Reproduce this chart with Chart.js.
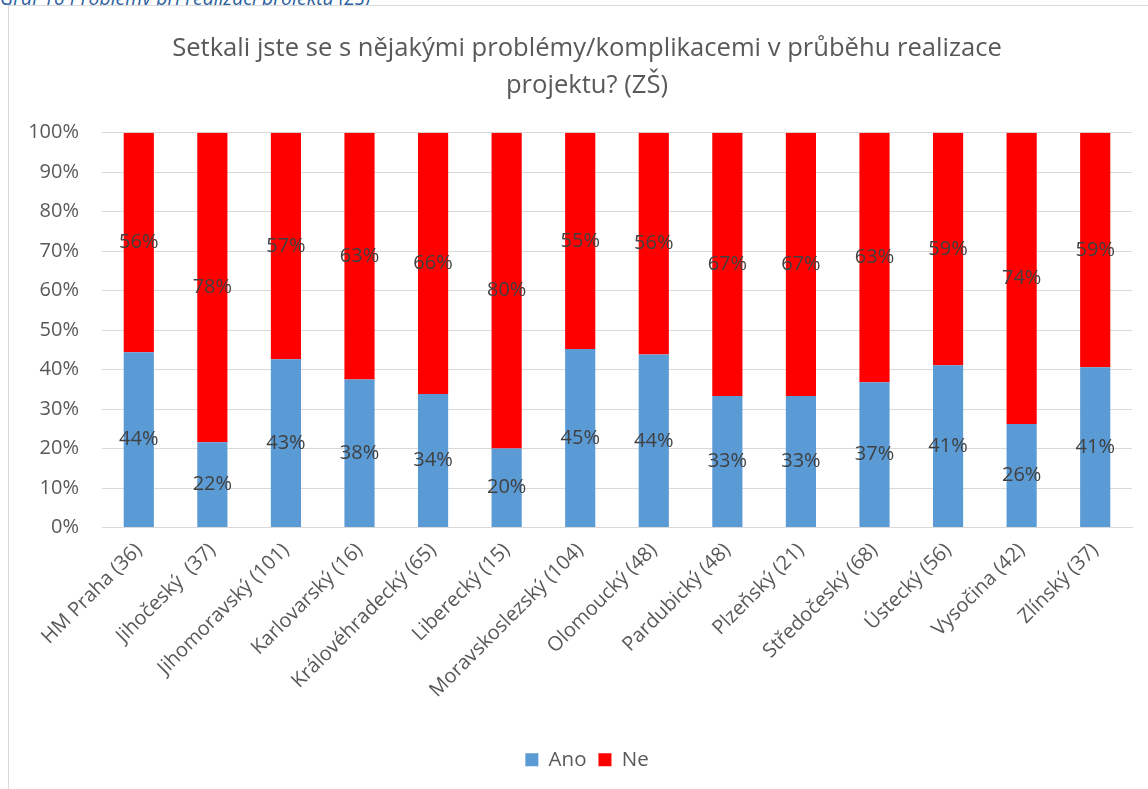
<!DOCTYPE html>
<html>
<head>
<meta charset="utf-8">
<script src="https://cdn.jsdelivr.net/npm/chart.js@4"></script>
<style>
  html, body { margin: 0; padding: 0; background: #fff; overflow: hidden; }
  #caption {
    position: absolute; left: 0; top: -16px;
    font-family: "Open Sans", sans-serif; font-style: italic;
    font-size: 19.5px; color: #2e5fa0; white-space: nowrap;
  }
  #frame {
    position: absolute; left: 8px; top: 5px; width: 1170px; height: 800px;
    border: 1px solid #d9d9d9; background: #fff;
  }
  #wrap { position: absolute; left: 0; top: 0; width: 1160px; height: 784px; }
</style>
</head>
<body>
<div id="caption">Graf 16 Problémy při realizaci projektu (ZŠ)</div>
<div id="frame">
  <div id="wrap"><canvas id="myChart"></canvas></div>
</div>
<script>
// categories and values
const regions = ['HM Praha (36)', 'Jihočeský  (37)', 'Jihomoravský (101)', 'Karlovarský (16)',
  'Královéhradecký (65)', 'Liberecký (15)', 'Moravskoslezský (104)', 'Olomoucký (48)',
  'Pardubický (48)', 'Plzeňský (21)', 'Středočeský (68)', 'Ústecký (56)', 'Vysočina (42)', 'Zlínský (37)'];
const ano = [44.4, 21.6, 42.6, 37.5, 33.8, 20.0, 45.2, 43.8, 33.3, 33.3, 36.8, 41.1, 26.2, 40.6];
const ne = [55.6, 78.4, 57.4, 62.5, 66.2, 80.0, 54.8, 56.2, 66.7, 66.7, 63.2, 58.9, 73.8, 59.4];
const yTicks = [0, 10, 20, 30, 40, 50, 60, 70, 80, 90, 100];

const FONT = '"Open Sans", sans-serif';
const GREY = '#595959';

// draws the percentage in the middle of each bar segment
const segmentLabels = {
  id: 'segmentLabels',
  afterDatasetsDraw(chart) {
    const ctx = chart.ctx;
    ctx.save();
    ctx.font = '20px ' + FONT;
    ctx.fillStyle = '#404040';
    ctx.textAlign = 'center';
    ctx.textBaseline = 'middle';
    chart.data.datasets.forEach((ds, i) => {
      chart.getDatasetMeta(i).data.forEach((bar, j) => {
        ctx.fillText(Math.round(ds.data[j]) + '%', bar.x, (bar.y + bar.base) / 2);
      });
    });
    ctx.restore();
  }
};

new Chart(document.getElementById('myChart'), {
  type: 'bar',
  data: {
    labels: regions,
    datasets: [
      { label: 'Ano', data: ano, backgroundColor: '#5b9bd5' },
      { label: 'Ne', data: ne, backgroundColor: '#ff0000' }
    ]
  },
  options: {
    responsive: true,
    maintainAspectRatio: false,
    animation: false,
    datasets: { bar: { categoryPercentage: 1, barPercentage: 0.41 } },
    layout: { padding: { left: 8, right: 12, top: 4, bottom: 10 } },
    plugins: {
      title: {
        display: true,
        text: ['Setkali jste se s nějakými problémy/komplikacemi v průběhu realizace', 'projektu? (ZŠ)'],
        color: GREY,
        font: { family: FONT, size: 25.6, weight: 'normal', lineHeight: 1.46 },
        padding: { top: 20, bottom: 28 }
      },
      legend: {
        position: 'bottom',
        labels: { color: GREY, font: { family: FONT, size: 20.5 }, boxWidth: 13, boxHeight: 13, padding: 12 }
      },
      tooltip: { enabled: false }
    },
    scales: {
      x: {
        stacked: true,
        grid: { display: false },
        border: { color: '#d9d9d9' },
        afterFit: s => { s.height = 210; },
        ticks: { color: GREY, font: { family: FONT, size: 20 }, maxRotation: 45, minRotation: 45, autoSkip: false }
      },
      y: {
        stacked: true,
        min: 0,
        max: 100,
        afterBuildTicks: axis => { axis.ticks = yTicks.map(v => ({ value: v })); },
        afterFit: s => { s.width = 85; },
        grid: { color: '#d9d9d9', drawTicks: false },
        border: { display: false },
        ticks: { color: GREY, font: { family: FONT, size: 20 }, padding: 23, callback: v => v + '%' }
      },
      // empty right-hand axis, only keeps the plot narrower than the title/legend box
      spacer: {
        position: 'right',
        display: true,
        grid: { display: false },
        border: { display: false },
        ticks: { display: false },
        afterFit: s => { s.width = 25; }
      }
    }
  },
  plugins: [segmentLabels]
});
</script>
</body>
</html>
